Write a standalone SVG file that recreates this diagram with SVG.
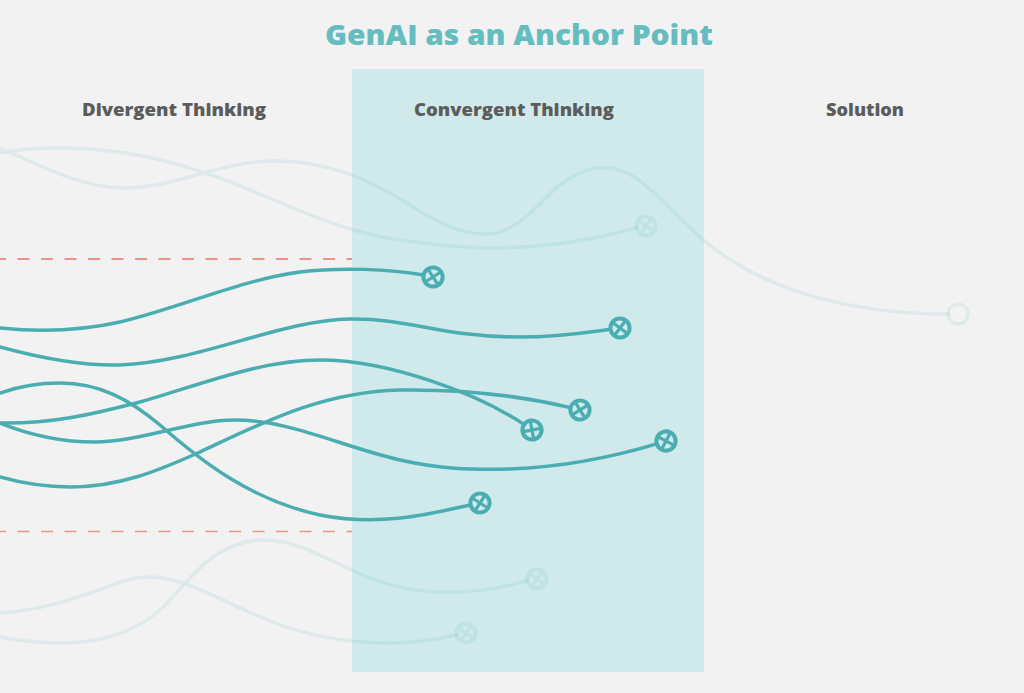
<svg xmlns="http://www.w3.org/2000/svg" xmlns:xlink="http://www.w3.org/1999/xlink" width="1024" height="693" viewBox="0 0 1024 693">
  <style>
    .title { font-family: "Open Sans", "Liberation Sans", sans-serif; font-weight: 800; font-size: 28px; fill: #66bdbf; }
    .head { font-family: "Open Sans", "Liberation Sans", sans-serif; font-weight: 800; font-size: 17px; fill: #5c5c5c; }
    .dash { stroke: #ea7463; stroke-width: 1.4; stroke-dasharray: 12 11.5; fill: none; }
    .curve { fill: none; stroke: #4aadb2; stroke-width: 3.5; stroke-linecap: round; }
    .faint { opacity: 0.12; }
  </style>
  <defs>
    <g id="xmark">
      <circle cx="0" cy="0" r="9.6" fill="none" stroke="#4aadb2" stroke-width="4"/>
      <path d="M-6.2,-6.2 L6.2,6.2 M-6.2,6.2 L6.2,-6.2" fill="none" stroke="#4aadb2" stroke-width="3.2"/>
    </g>
  </defs>

  <rect x="0" y="0" width="1024" height="693" fill="#f2f2f2"/>
  <rect id="convergent-zone" x="352" y="69" width="352" height="603" fill="#d0eaeb"/>

  <text class="title" x="519" y="45" text-anchor="middle" textLength="388" lengthAdjust="spacingAndGlyphs">GenAI as an Anchor Point</text>
  <text class="head" x="174" y="116" text-anchor="middle" textLength="184" lengthAdjust="spacingAndGlyphs">Divergent Thinking</text>
  <text class="head" x="514" y="116" text-anchor="middle" textLength="200" lengthAdjust="spacingAndGlyphs">Convergent Thinking</text>
  <text class="head" x="865" y="116" text-anchor="middle" textLength="78" lengthAdjust="spacingAndGlyphs">Solution</text>

  <line class="dash" x1="0" y1="259" x2="352" y2="259" stroke-dashoffset="6"/>
  <line class="dash" x1="0" y1="531.5" x2="352" y2="531.5" stroke-dashoffset="6" opacity="0.75"/>

  <g id="connectors">
    <g class="faint">
      <path id="c-g" class="curve" d="M0,153 C 20,149 40,148 60,148 C 120,148 170,160 220,178 C 280,200 330,230 400,240 C 450,247 480,249 520,247 C 570,245 610,235 636.4,227.9"/>
      <path id="c-h" class="curve" d="M0,148 C 40,165 80,188 125,188 C 175,188 220,161 275,161 C 330,161 370,180 410,205 C 440,224 460,234 485,234 C 520,234 540,200 560,185 C 580,170 595,166 610,168 C 640,172 660,200 700,237 C 760,290 850,314 948,314"/>
      <path id="c-i" class="curve" d="M0,613 C 40,611 80,597 110,586 C 125,580 135,577 150,577 C 185,577 225,603 270,621 C 310,637 350,643 390,643 C 420,643 440,639 456.4,634.9"/>
      <path id="c-j" class="curve" d="M0,637 C 20,641 40,643 60,643 C 100,643 135,632 160,610 C 185,588 210,540 264,540 C 300,540 330,562 370,578 C 400,590 430,593 460,592 C 490,591 510,585 527.4,580.7"/>
    </g>
    <path id="c-a" class="curve" d="M0,328 C 40,332 80,331 120,322 C 180,308 240,280 300,272 C 340,267 390,269 423.4,275"/>
    <path id="c-b" class="curve" d="M0,347 C 40,358 80,366 120,365 C 200,362 280,320 350,319 C 410,318 440,337 520,337 C 560,337 590,332 610.3,329.3"/>
    <path id="c-c" class="curve" d="M0,423 C 50,424 90,415 140,402 C 200,385 260,360 320,360 C 390,360 480,395 524,424.4"/>
    <path id="c-d" class="curve" d="M0,393 C 20,386 40,383 60,383 C 100,383 130,400 160,425 C 200,460 250,500 320,515 C 380,527 430,514 470.4,504.9"/>
    <path id="c-e" class="curve" d="M0,423 C 30,435 60,442 95,442 C 140,442 190,420 235,420 C 290,420 340,446 400,460 C 440,469 470,470 510,469 C 560,467 610,458 656.6,443.9"/>
    <path id="c-f" class="curve" d="M0,477 C 25,484 45,487 70,487 C 120,487 160,470 200,452 C 260,424 320,392 400,390 C 470,389 530,398 570.5,407.6"/>
  </g>

  <g id="node-g" class="faint"><use xlink:href="#xmark" href="#xmark" transform="translate(646,226) rotate(-11)"/></g>
  <g id="node-h" class="faint"><circle cx="958" cy="314" r="10" fill="none" stroke="#4aadb2" stroke-width="3"/></g>
  <g id="node-i" class="faint"><use xlink:href="#xmark" href="#xmark" transform="translate(466,633) rotate(-11)"/></g>
  <g id="node-j" class="faint"><use xlink:href="#xmark" href="#xmark" transform="translate(537,579) rotate(-10)"/></g>

  <g id="node-a"><use xlink:href="#xmark" href="#xmark" transform="translate(433,277) rotate(12)"/></g>
  <g id="node-b"><use xlink:href="#xmark" href="#xmark" transform="translate(620,328) rotate(-8)"/></g>
  <g id="node-c"><use xlink:href="#xmark" href="#xmark" transform="translate(532,430) rotate(34)"/></g>
  <g id="node-d"><use xlink:href="#xmark" href="#xmark" transform="translate(480,503) rotate(-12)"/></g>
  <g id="node-e"><use xlink:href="#xmark" href="#xmark" transform="translate(666,441) rotate(-17)"/></g>
  <g id="node-f"><use xlink:href="#xmark" href="#xmark" transform="translate(580,410) rotate(13)"/></g>
</svg>
